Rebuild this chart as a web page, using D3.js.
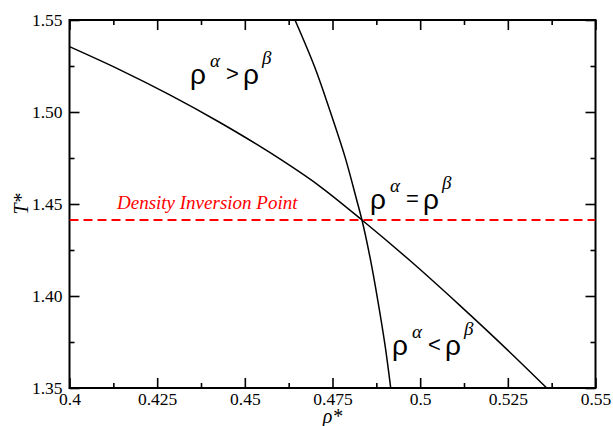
<!DOCTYPE html>
<html>
<head>
<meta charset="utf-8">
<script src="https://cdn.jsdelivr.net/npm/d3@7"></script>
<style>
  body { margin: 0; background: #fff; }
  svg { display: block; }
</style>
</head>
<body>
<div id="container"></div>
<script>
let w = 613;
let h = 426;
let margin = {left: 69.5, right: 17.5, top: 20, bottom: 38};

// data
let curveA_rho = [0.4000, 0.4144, 0.4286, 0.4429, 0.4571, 0.4714, 0.4834, 0.4970, 0.5113, 0.5255, 0.5361];
let curveA_T   = [1.5355, 1.5229, 1.5093, 1.4943, 1.4780, 1.4596, 1.4413, 1.4194, 1.3949, 1.3696, 1.3500];
let curveB_rho = [0.4643, 0.4700, 0.4742, 0.4785, 0.4819, 0.4834, 0.4858, 0.4879, 0.4900, 0.4916];
let curveB_T   = [1.5500, 1.5240, 1.5011, 1.4760, 1.4522, 1.4413, 1.4200, 1.3978, 1.3730, 1.3500];
let inversionT = 1.4413;
let inversionLabel = "Density Inversion Point";
let xTicks = [0.4, 0.425, 0.45, 0.475, 0.5, 0.525, 0.55];
let xTickLabels = ["0.4", "0.425", "0.45", "0.475", "0.5", "0.525", "0.55"];
let xMinor = [0.4125, 0.4375, 0.4625, 0.4875, 0.5125, 0.5375];
let yTicks = [1.35, 1.40, 1.45, 1.50, 1.55];
let yTickLabels = ["1.35", "1.40", "1.45", "1.50", "1.55"];
let yMinor = [1.375, 1.425, 1.475, 1.525];

let serif = "'Liberation Serif', 'Times New Roman', serif";

let viz = d3.select("#container")
  .append("svg")
    .attr("width", w)
    .attr("height", h)
;

let xScale = d3.scaleLinear().domain([0.4, 0.55]).range([margin.left, w - margin.right]);
let yScale = d3.scaleLinear().domain([1.35, 1.55]).range([h - margin.bottom, margin.top]);

viz.append("defs").append("clipPath").attr("id", "plotclip")
  .append("rect")
    .attr("x", xScale(0.4))
    .attr("y", yScale(1.55))
    .attr("width", xScale(0.55) - xScale(0.4))
    .attr("height", yScale(1.35) - yScale(1.55))
;

// axes: ticks point inward on all four sides
function styleAxis(g){
  g.attr("font-family", null).attr("font-size", null);
  g.select(".domain").remove();
  g.selectAll("line").attr("stroke", "#000").attr("stroke-width", 1.6);
  g.selectAll("text")
    .style("font-family", serif)
    .style("font-size", "17.5px")
    .attr("fill", "#000");
}

let xAxis = d3.axisBottom(xScale).tickValues(xTicks).tickSize(-10).tickPadding(5)
  .tickFormat(function(d,i){ return xTickLabels[i]; });
viz.append("g").attr("class","xaxis")
  .attr("transform","translate(0,"+yScale(1.35)+")")
  .call(xAxis).call(styleAxis);

viz.append("g")
  .attr("transform","translate(0,"+yScale(1.35)+")")
  .call(d3.axisBottom(xScale).tickValues(xMinor).tickSize(-5).tickFormat(""))
  .call(styleAxis);

viz.append("g")
  .attr("transform","translate(0,"+yScale(1.55)+")")
  .call(d3.axisTop(xScale).tickValues(xTicks).tickSize(-10).tickFormat(""))
  .call(styleAxis);
viz.append("g")
  .attr("transform","translate(0,"+yScale(1.55)+")")
  .call(d3.axisTop(xScale).tickValues(xMinor).tickSize(-5).tickFormat(""))
  .call(styleAxis);

let yAxis = d3.axisLeft(yScale).tickValues(yTicks).tickSize(-10).tickPadding(7)
  .tickFormat(function(d,i){ return yTickLabels[i]; });
viz.append("g").attr("class","yaxis")
  .attr("transform","translate("+xScale(0.4)+",0)")
  .call(yAxis).call(styleAxis);
viz.append("g")
  .attr("transform","translate("+xScale(0.4)+",0)")
  .call(d3.axisLeft(yScale).tickValues(yMinor).tickSize(-5).tickFormat(""))
  .call(styleAxis);

viz.append("g")
  .attr("transform","translate("+xScale(0.55)+",0)")
  .call(d3.axisRight(yScale).tickValues(yTicks).tickSize(-10).tickFormat(""))
  .call(styleAxis);
viz.append("g")
  .attr("transform","translate("+xScale(0.55)+",0)")
  .call(d3.axisRight(yScale).tickValues(yMinor).tickSize(-5).tickFormat(""))
  .call(styleAxis);

// frame
viz.append("rect")
  .attr("x", xScale(0.4))
  .attr("y", yScale(1.55))
  .attr("width", xScale(0.55) - xScale(0.4))
  .attr("height", yScale(1.35) - yScale(1.55))
  .attr("fill", "none")
  .attr("stroke", "#000")
  .attr("stroke-width", 2)
;

// curves
let line = d3.line()
  .x(function(d){ return xScale(d[0]); })
  .y(function(d){ return yScale(d[1]); })
  .curve(d3.curveMonotoneX);

let lineV = d3.line()
  .x(function(d){ return xScale(d[0]); })
  .y(function(d){ return yScale(d[1]); })
  .curve(d3.curveMonotoneY);

let plotGroup = viz.append("g").attr("clip-path","url(#plotclip)");

plotGroup.append("path")
  .datum(d3.zip(curveA_rho, curveA_T))
  .attr("d", line)
  .attr("fill","none")
  .attr("stroke","#000")
  .attr("stroke-width",1.5);

plotGroup.append("path")
  .datum(d3.zip(curveB_rho, curveB_T))
  .attr("d", lineV)
  .attr("fill","none")
  .attr("stroke","#000")
  .attr("stroke-width",1.5);

// inversion line
plotGroup.append("line")
  .attr("x1", xScale(0.4))
  .attr("x2", xScale(0.55))
  .attr("y1", yScale(inversionT))
  .attr("y2", yScale(inversionT))
  .attr("stroke", "#ff0000")
  .attr("stroke-width", 2)
  .attr("stroke-dasharray", "9,5");

viz.append("text")
  .text(inversionLabel)
  .attr("x", 117)
  .attr("y", 209)
  .style("font-family", serif)
  .style("font-style", "italic")
  .style("font-size", "19px")
  .attr("fill", "#ff0000");

// region labels
function rhoLabel(x, y, op){
  let g = viz.append("g").attr("transform", "translate(" + x + "," + y + ")");
  let big = "'Liberation Sans', sans-serif";
  g.append("text").text("\u03c1").attr("x", 0).attr("y", 0)
    .style("font-family", big).style("font-size", "28px");
  g.append("text").text("\u03b1").attr("x", 20).attr("y", -17)
    .style("font-family", serif).style("font-style", "italic").style("font-size", "19px");
  g.append("text").text(op).attr("x", 36).attr("y", -3)
    .style("font-family", big).style("font-size", "22px");
  g.append("text").text("\u03c1").attr("x", 53).attr("y", 0)
    .style("font-family", big).style("font-size", "28px");
  g.append("text").text("\u03b2").attr("x", 72).attr("y", -20)
    .style("font-family", serif).style("font-style", "italic").style("font-size", "19px");
}
rhoLabel(190, 84, ">");
rhoLabel(370, 209, "=");
rhoLabel(392, 355, "<");

// axis titles
viz.append("text")
  .attr("x", (xScale(0.4) + xScale(0.55)) / 2)
  .attr("y", 423)
  .attr("text-anchor", "middle")
  .style("font-family", serif)
  .style("font-style", "italic")
  .style("font-size", "20px")
  .text("\u03c1*");

viz.append("text")
  .attr("transform", "translate(28," + yScale(1.45) + ") rotate(-90)")
  .attr("text-anchor", "middle")
  .style("font-family", serif)
  .style("font-style", "italic")
  .style("font-size", "20px")
  .text("T*");
</script>
</body>
</html>
